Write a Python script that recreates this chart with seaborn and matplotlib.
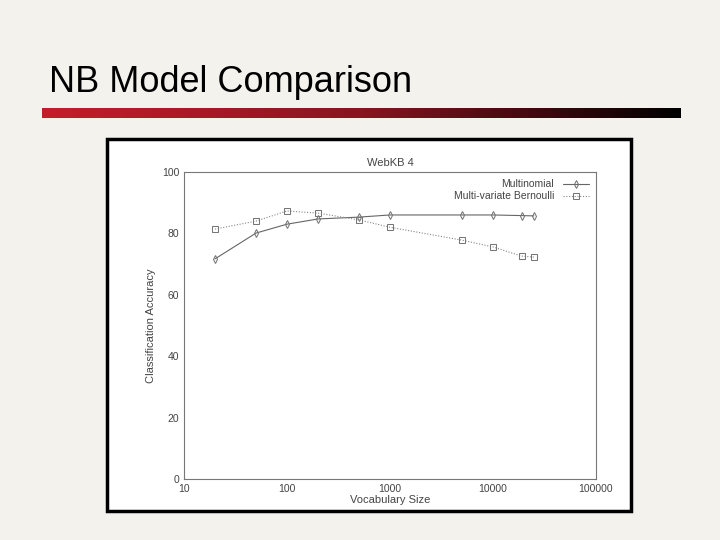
import numpy as np
import pandas as pd
import matplotlib
matplotlib.use("Agg")
import matplotlib.pyplot as plt
import seaborn as sns
from matplotlib.patches import Rectangle
from matplotlib.colors import LinearSegmentedColormap

vocab = [20, 50, 100, 200, 500, 1000, 5000, 10000, 19000, 25000]
multinomial = [71.7, 80.1, 83.0, 84.7, 85.3, 86.0, 86.0, 86.0, 85.8, 85.7]
bernoulli = [81.4, 84.0, 87.3, 86.6, 84.4, 82.0, 77.8, 75.6, 72.6, 72.3]

df = pd.concat([
    pd.DataFrame({"Vocabulary Size": vocab, "acc": multinomial, "model": "Multinomial"}),
    pd.DataFrame({"Vocabulary Size": vocab, "acc": bernoulli, "model": "Multi-variate Bernoulli"}),
])

sns.set_style("white")
plt.rcParams["font.family"] = ["Liberation Sans", "DejaVu Sans"]
fig = plt.figure(figsize=(7.2, 5.4), dpi=100)
fig.patch.set_facecolor("#f3f2ed")

fig.text(0.068, 0.848, "NB Model Comparison", fontsize=26, color="black", va="center")
gax = fig.add_axes([0.058, 0.782, 0.887, 0.018])
cmap = LinearSegmentedColormap.from_list("g", ["#c21f2a", "#8a1420", "#000000"])
gax.imshow(np.linspace(0, 1, 256)[None, :], aspect="auto", cmap=cmap)
gax.axis("off")

bax = fig.add_axes([0, 0, 1, 1], zorder=-1)
bax.set_xlim(0, 1); bax.set_ylim(0, 1); bax.axis("off")
bax.add_patch(Rectangle((0.148, 0.054), 0.729, 0.688, facecolor="white",
                        edgecolor="black", linewidth=2.5))

ax = fig.add_axes([0.2556, 0.113, 0.572, 0.5685], zorder=1)
ax.set_facecolor("white")
sns.lineplot(data=df, x="Vocabulary Size", y="acc", hue="model", style="model",
             palette=["#666666", "#888888"], markers=["d", "s"], dashes=[(None, None), (1, 1.5)],
             markersize=4, linewidth=0.8, ax=ax, markerfacecolor="none", markeredgecolor="#777777")
ax.set_xscale("log")
ax.set_xlim(10, 100000)
ax.set_ylim(0, 100)
ax.set_xticks([10, 100, 1000, 10000, 100000])
ax.set_xticklabels(["10", "100", "1000", "10000", "100000"])
ax.set_yticks([0, 20, 40, 60, 80, 100])
ax.tick_params(labelsize=7.5, colors="#444444", direction="in", length=3)
ax.set_xlabel("Vocabulary Size", fontsize=8, color="#444444", labelpad=1)
ax.set_ylabel("Classification Accuracy", fontsize=8, color="#444444")
ax.set_title("WebKB 4", fontsize=8, color="#444444", pad=4)
for s in ax.spines.values():
    s.set_color("#777777")
    s.set_linewidth(0.8)
leg = ax.legend(loc="upper right", frameon=False, fontsize=7.5, markerfirst=False,
                handlelength=2.5, borderaxespad=0.3, labelspacing=0.2)
for t in leg.get_texts():
    t.set_color("#444444")
fig.savefig("out.png", dpi=100, facecolor=fig.get_facecolor())
